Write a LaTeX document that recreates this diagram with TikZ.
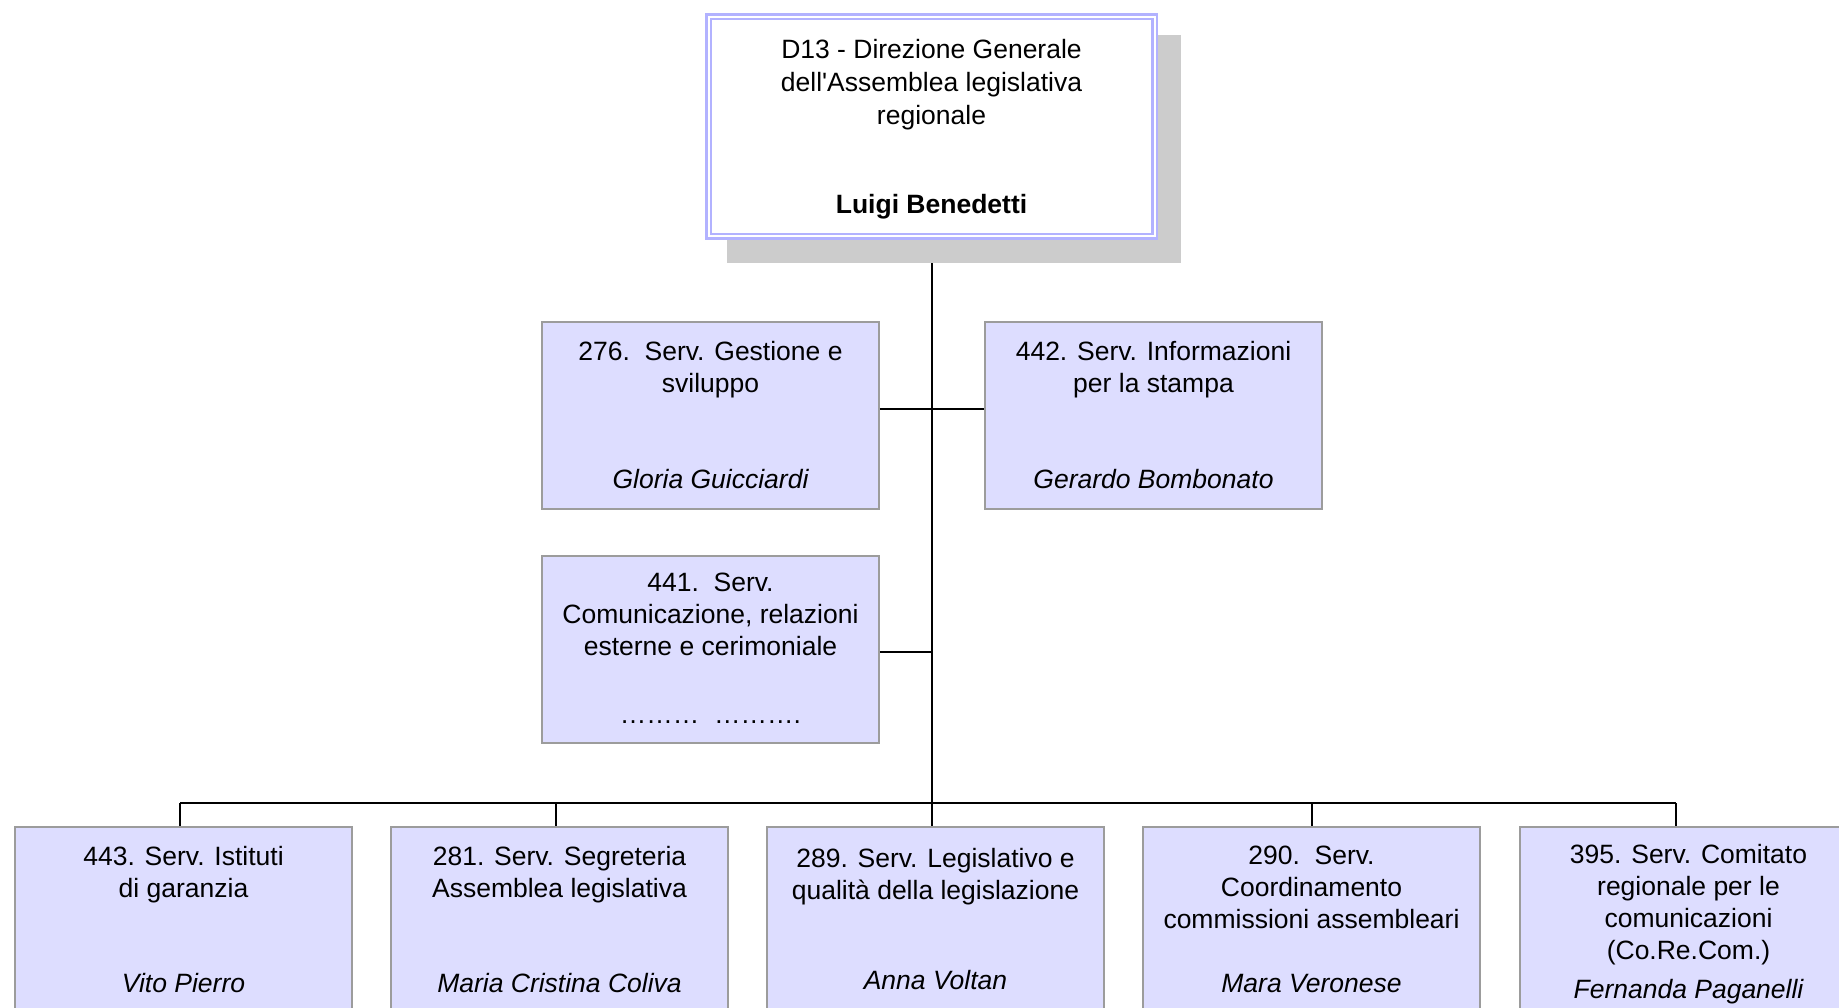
\documentclass[tikz,border=0pt]{standalone}
\usepackage{fontspec}
\setmainfont{Liberation Sans}
\usetikzlibrary{positioning}

\definecolor{svcfill}{RGB}{221,221,255}
\definecolor{svcline}{RGB}{156,156,156}
\definecolor{dgline}{RGB}{178,178,255}
\definecolor{dgshade}{RGB}{204,204,204}

\tikzset{
  svcbox/.style={rectangle, fill=svcfill, draw=svcline, line width=1.8pt,
    minimum width=337pt, minimum height=187pt, inner sep=0pt},
  svctitle/.style={anchor=base, align=center, inner sep=0pt,
    font=\fontsize{26.5}{32}\selectfont},
  svchead/.style={svctitle, font=\fontsize{26.5}{32}\selectfont\itshape},
  link/.style={line width=1.7pt, black},
}

\begin{document}
\begin{tikzpicture}[x=1pt,y=-1pt]

\useasboundingbox (0,0) rectangle (1839,1007);
\clip (0,0) rectangle (1839,1007);

% direzione generale
\node[fill=dgshade, minimum width=454pt, minimum height=228pt, inner sep=0pt] (dgshadow) at (954,149) {};
\node[fill=white, draw=dgline, double=white, double distance=2pt, line width=2.5pt,
  minimum width=446pt, minimum height=219.5pt, inner sep=0pt] (dg) at (931.5,126.25) {};
\node[svctitle, font=\fontsize{26.5}{33}\selectfont] (tdg) at ([yshift=-109pt]dg.north) {D13 - Direzione Generale\\dell\textquotesingle Assemblea legislativa\\regionale};
\node[svctitle, font=\fontsize{26.5}{32}\selectfont\bfseries] (hdg) at ([yshift=-198pt]dg.north) {Luigi Benedetti};

% servizi di staff
\node[svcbox] (b276) at (710.5,415.5) {};
\node[svctitle] (t276) at ([yshift=-71pt]b276.north) {276.\ \ Serv. Gestione e\\sviluppo};
\node[svchead] (h276) at ([yshift=-167pt]b276.north) {Gloria Guicciardi};

\node[svcbox] (b442) at (1153.5,415.5) {};
\node[svctitle] (t442) at ([yshift=-71pt]b442.north) {442. Serv. Informazioni\\per la stampa};
\node[svchead] (h442) at ([yshift=-167pt]b442.north) {Gerardo Bombonato};

\node[svcbox] (b441) at (710.5,649.5) {};
\node[svctitle] (t441) at ([yshift=-100pt]b441.north) {441.\ \ Serv.\\Comunicazione, relazioni\\esterne e cerimoniale};
\node[svctitle] (h441) at ([yshift=-168pt]b441.north) {………\ \ ……….};

% servizi
\node[svcbox] (b443) at (183.5,920.5) {};
\node[svctitle] (t443) at ([yshift=-71pt]b443.north) {443. Serv. Istituti\\di garanzia};
\node[svchead] (h443) at ([yshift=-166pt]b443.north) {Vito Pierro};

\node[svcbox] (b281) at (559.5,920.5) {};
\node[svctitle] (t281) at ([yshift=-71pt]b281.north) {281. Serv. Segreteria\\Assemblea legislativa};
\node[svchead] (h281) at ([yshift=-166pt]b281.north) {Maria Cristina Coliva};

\node[svcbox] (b289) at (935.5,920.5) {};
\node[svctitle] (t289) at ([yshift=-73pt]b289.north) {289. Serv. Legislativo e\\qualità della legislazione};
\node[svchead] (h289) at ([yshift=-163pt]b289.north) {Anna Voltan};

\node[svcbox] (b290) at (1311.5,920.5) {};
\node[svctitle] (t290) at ([yshift=-102pt]b290.north) {290.\ \ Serv.\\Coordinamento\\commissioni assembleari};
\node[svchead] (h290) at ([yshift=-166pt]b290.north) {Mara Veronese};

\node[svcbox] (b395) at (1688.5,920.5) {};
\node[svctitle] (t395) at ([yshift=-133pt]b395.north) {395. Serv. Comitato\\regionale per le\\comunicazioni\\(Co.Re.Com.)};
\node[svchead] (h395) at ([yshift=-172pt]b395.north) {Fernanda Paganelli};

% collegamenti
\coordinate (j276) at (932,409);
\coordinate (j441) at (932,652);
\coordinate (j443) at (180,803);
\coordinate (j281) at (556,803);
\coordinate (j289) at (932,803);
\coordinate (j290) at (1312,803);
\coordinate (j395) at (1676,803);

\draw[link] (j289 |- dgshadow.south) -- (j289);
\draw[link] (j276 -| b276.east) -- (j276 -| b442.west);
\draw[link] (j441 -| b441.east) -- (j441);
\draw[link] (j443) -- (j395);
\draw[link] (j443) -- (j443 |- b443.north);
\draw[link] (j281) -- (j281 |- b281.north);
\draw[link] (j289) -- (j289 |- b289.north);
\draw[link] (j290) -- (j290 |- b290.north);
\draw[link] (j395) -- (j395 |- b395.north);

\end{tikzpicture}
\end{document}
